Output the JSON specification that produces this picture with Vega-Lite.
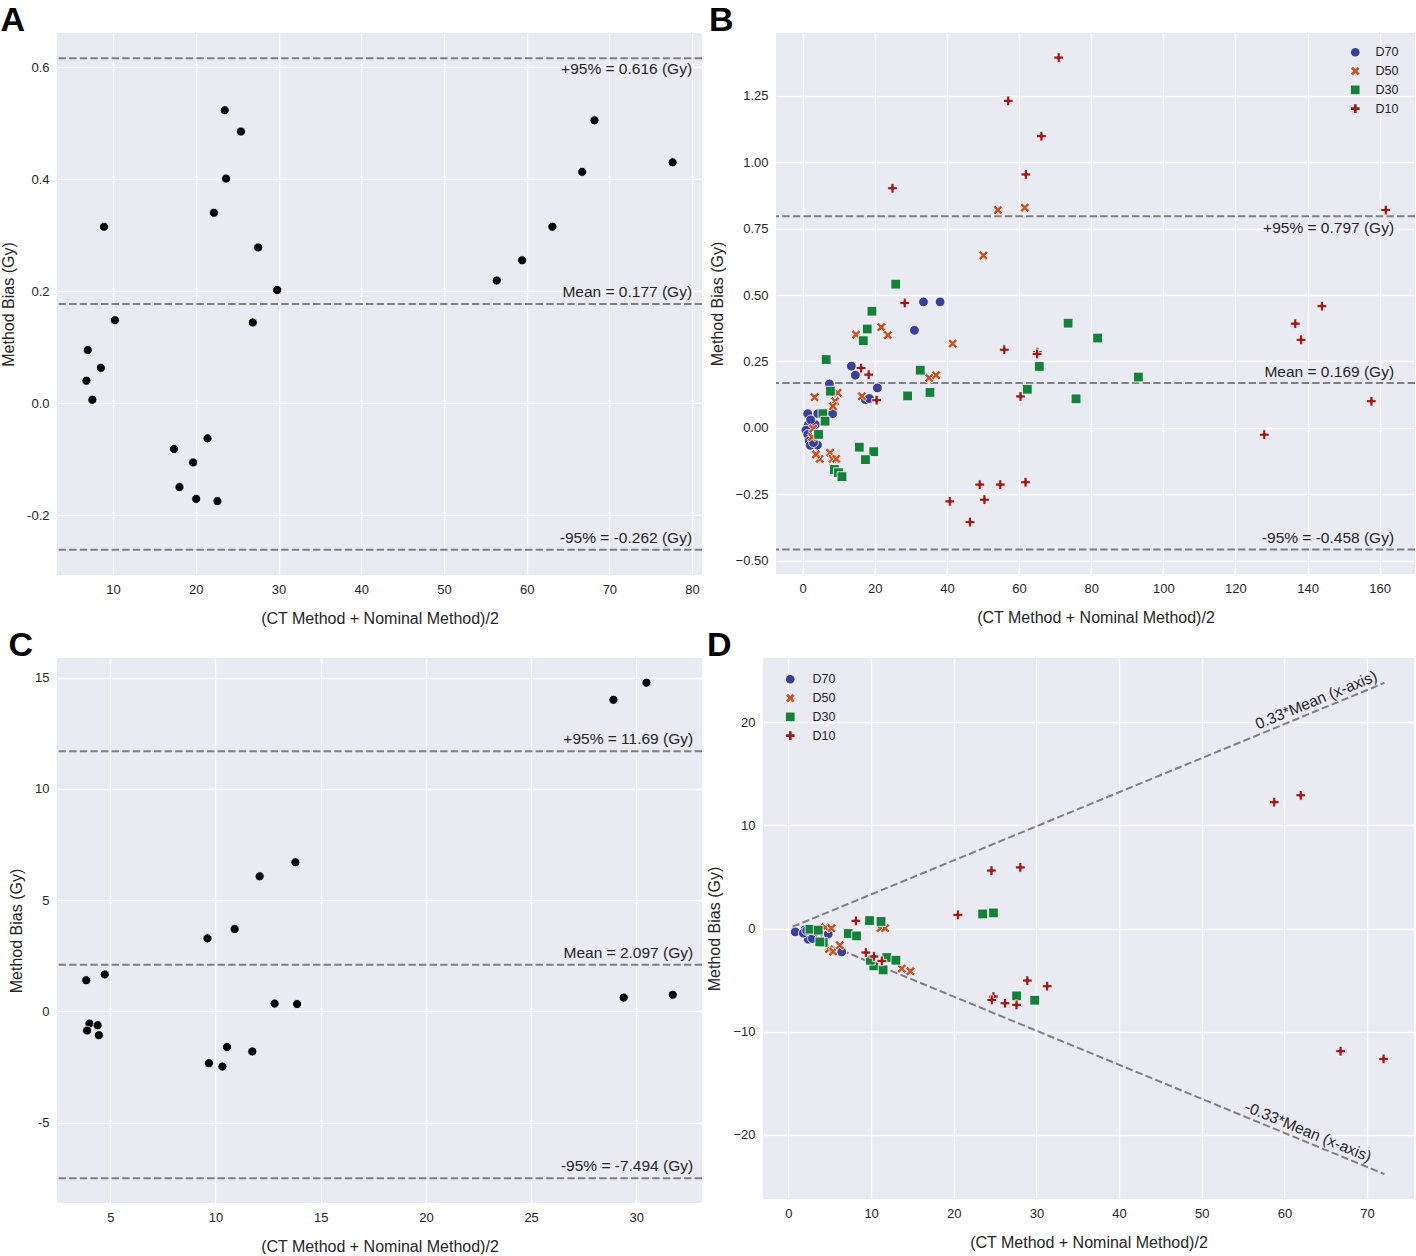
{
"$schema": "https://vega.github.io/schema/vega-lite/v6.json",
"padding": {"left": 0, "top": 4, "right": 0, "bottom": 0},
"background": "white",
"config": {
  "view": {"fill": "#eaeaf2", "stroke": null},
  "axis": {"domain": false, "ticks": false, "gridColor": "white", "gridWidth": 1.3, "labelFont": "Liberation Sans", "labelFontSize": 13, "labelColor": "#262626", "labelPadding": 8, "titleFont": "Liberation Sans", "titleFontSize": 16, "titleFontWeight": "normal", "titleColor": "#262626", "titlePadding": 10},
  "axisX": {"titlePadding": 14},
  "title": {"font": "Liberation Sans", "fontSize": 34, "fontWeight": "bold", "anchor": "start", "frame": "bounds", "color": "black", "offset": -5, "baseline": "top"},
  "text": {"font": "Liberation Sans", "fontSize": 15.5, "color": "#262626"},
  "legend": {"labelFont": "Liberation Sans", "labelFontSize": 12.5, "labelColor": "#262626"}
},
"spacing": 3,
"resolve": {"scale": {"color": "independent", "shape": "independent"}, "legend": {"color": "independent", "shape": "independent"}},
"vconcat": [
{
 "spacing": 6,
 "resolve": {"scale": {"color": "independent", "shape": "independent"}, "legend": {"color": "independent", "shape": "independent"}},
 "hconcat": [
 {
  "title": {"text": "A"},
  "width": 645, "height": 542,
  "layer": [
   {
    "data": {"values": [{"y": 0.616}, {"y": 0.177}, {"y": -0.262}]},
    "mark": {"type": "rule", "color": "#808080", "strokeWidth": 2, "strokeDash": [7.4, 3.2]},
    "encoding": {"y": {"field": "y", "type": "quantitative", "scale": {"domain": [-0.307, 0.661], "nice": false, "zero": false}, "axis": {"values": [-0.2, 0, 0.2, 0.4, 0.6], "format": ".1f", "labelExpr": "replace(datum.label, '−', '-')", "title": "Method Bias (Gy)"}}}
   },
   {
    "data": {"values": [
     {"x": 6.94, "y": 0.0947}, {"x": 6.78, "y": 0.040}, {"x": 7.49, "y": 0.006}, {"x": 8.52, "y": 0.063}, {"x": 8.91, "y": 0.315},
     {"x": 10.22, "y": 0.148}, {"x": 17.38, "y": -0.082}, {"x": 18.03, "y": -0.150}, {"x": 19.67, "y": -0.106}, {"x": 20.05, "y": -0.171},
     {"x": 21.42, "y": -0.063}, {"x": 22.62, "y": -0.175}, {"x": 22.19, "y": 0.340}, {"x": 23.50, "y": 0.523}, {"x": 23.66, "y": 0.401},
     {"x": 25.46, "y": 0.485}, {"x": 26.89, "y": 0.144}, {"x": 27.54, "y": 0.278}, {"x": 29.84, "y": 0.202}, {"x": 56.39, "y": 0.219},
     {"x": 59.45, "y": 0.255}, {"x": 63.11, "y": 0.315}, {"x": 66.72, "y": 0.413}, {"x": 68.2, "y": 0.505}, {"x": 77.65, "y": 0.430}
    ]},
    "mark": {"type": "point", "shape": "circle", "filled": true, "color": "black", "opacity": 1, "stroke": "white", "strokeWidth": 0.8, "size": 82},
    "encoding": {
     "x": {"field": "x", "type": "quantitative", "scale": {"domain": [3.22, 81.2], "nice": false, "zero": false}, "axis": {"values": [10, 20, 30, 40, 50, 60, 70, 80], "title": "(CT Method + Nominal Method)/2"}},
     "y": {"field": "y", "type": "quantitative", "axis": {"values": [-0.2, 0, 0.2, 0.4, 0.6], "format": ".1f", "labelExpr": "replace(datum.label, '−', '-')", "title": "Method Bias (Gy)"}}
    }
   },
   {
    "data": {"values": [{"y": 0.616, "label": "+95% = 0.616 (Gy)"}]},
    "mark": {"type": "text", "align": "right", "baseline": "middle", "dy": 11},
    "encoding": {"x": {"datum": 80.0}, "y": {"field": "y", "type": "quantitative"}, "text": {"field": "label"}}
   },
   {
    "data": {"values": [{"y": 0.177, "label": "Mean = 0.177 (Gy)"}, {"y": -0.262, "label": "-95% = -0.262 (Gy)"}]},
    "mark": {"type": "text", "align": "right", "baseline": "middle", "dy": -12},
    "encoding": {"x": {"datum": 80.0}, "y": {"field": "y", "type": "quantitative"}, "text": {"field": "label"}}
   }
  ]
 },
 {
  "title": {"text": "B"},
  "width": 639, "height": 541,
  "layer": [
   {
    "data": {"values": [{"y": 0.797}, {"y": 0.169}, {"y": -0.458}]},
    "mark": {"type": "rule", "color": "#808080", "strokeWidth": 2, "strokeDash": [7.4, 3.2]},
    "encoding": {"y": {"field": "y", "type": "quantitative", "scale": {"domain": [-0.5506, 1.4866], "nice": false, "zero": false}, "axis": {"values": [-0.5, -0.25, 0, 0.25, 0.5, 0.75, 1, 1.25], "format": ".2f", "title": "Method Bias (Gy)"}}}
   },
   {
    "data": {"values": [
     {"group": "D70", "x": 33.5, "y": 0.474}, {"group": "D70", "x": 38.1, "y": 0.474}, {"group": "D70", "x": 31.0, "y": 0.367},
     {"group": "D70", "x": 13.5, "y": 0.232}, {"group": "D70", "x": 14.6, "y": 0.198}, {"group": "D70", "x": 7.4, "y": 0.165},
     {"group": "D70", "x": 20.7, "y": 0.150}, {"group": "D70", "x": 17.4, "y": 0.106}, {"group": "D70", "x": 18.5, "y": 0.110},
     {"group": "D70", "x": 1.4, "y": 0.053}, {"group": "D70", "x": 4.2, "y": 0.053}, {"group": "D70", "x": 8.3, "y": 0.053},
     {"group": "D70", "x": 1.6, "y": 0.012}, {"group": "D70", "x": 0.9, "y": -0.009}, {"group": "D70", "x": 1.4, "y": -0.025},
     {"group": "D70", "x": 1.8, "y": -0.05}, {"group": "D70", "x": 2.1, "y": -0.066}, {"group": "D70", "x": 4.1, "y": -0.065},
     {"group": "D70", "x": 3.0, "y": -0.056}, {"group": "D70", "x": 3.5, "y": 0.012}, {"group": "D70", "x": 2.2, "y": 0.03},
     {"group": "D50", "x": 54.1, "y": 0.820}, {"group": "D50", "x": 61.6, "y": 0.829}, {"group": "D50", "x": 50.1, "y": 0.649},
     {"group": "D50", "x": 14.8, "y": 0.351}, {"group": "D50", "x": 21.8, "y": 0.379}, {"group": "D50", "x": 23.6, "y": 0.349},
     {"group": "D50", "x": 41.6, "y": 0.317}, {"group": "D50", "x": 35.1, "y": 0.188}, {"group": "D50", "x": 37.0, "y": 0.198},
     {"group": "D50", "x": 3.3, "y": 0.115}, {"group": "D50", "x": 9.7, "y": 0.132}, {"group": "D50", "x": 9.0, "y": 0.100},
     {"group": "D50", "x": 8.4, "y": 0.081}, {"group": "D50", "x": 16.4, "y": 0.119}, {"group": "D50", "x": 2.9, "y": -0.003},
     {"group": "D50", "x": 7.6, "y": -0.094}, {"group": "D50", "x": 4.7, "y": -0.117}, {"group": "D50", "x": 3.7, "y": -0.100},
     {"group": "D50", "x": 8.3, "y": -0.117}, {"group": "D50", "x": 9.3, "y": -0.117}, {"group": "D50", "x": 2.6, "y": -0.035},
     {"group": "D30", "x": 25.8, "y": 0.541}, {"group": "D30", "x": 19.2, "y": 0.439}, {"group": "D30", "x": 17.9, "y": 0.372},
     {"group": "D30", "x": 16.8, "y": 0.328}, {"group": "D30", "x": 6.5, "y": 0.257}, {"group": "D30", "x": 32.6, "y": 0.217},
     {"group": "D30", "x": 29.1, "y": 0.120}, {"group": "D30", "x": 35.3, "y": 0.133}, {"group": "D30", "x": 7.7, "y": 0.138},
     {"group": "D30", "x": 5.6, "y": 0.053}, {"group": "D30", "x": 6.2, "y": 0.025}, {"group": "D30", "x": 4.4, "y": -0.025},
     {"group": "D30", "x": 15.7, "y": -0.073}, {"group": "D30", "x": 19.7, "y": -0.090}, {"group": "D30", "x": 17.4, "y": -0.120},
     {"group": "D30", "x": 8.8, "y": -0.157}, {"group": "D30", "x": 9.9, "y": -0.169}, {"group": "D30", "x": 10.9, "y": -0.184},
     {"group": "D30", "x": 73.6, "y": 0.394}, {"group": "D30", "x": 81.8, "y": 0.338}, {"group": "D30", "x": 65.6, "y": 0.231},
     {"group": "D30", "x": 93.1, "y": 0.191}, {"group": "D30", "x": 62.3, "y": 0.145}, {"group": "D30", "x": 75.8, "y": 0.109},
     {"group": "D10", "x": 71.0, "y": 1.394}, {"group": "D10", "x": 57.0, "y": 1.231}, {"group": "D10", "x": 66.2, "y": 1.098},
     {"group": "D10", "x": 61.9, "y": 0.954}, {"group": "D10", "x": 24.9, "y": 0.902}, {"group": "D10", "x": 161.7, "y": 0.820},
     {"group": "D10", "x": 28.3, "y": 0.470}, {"group": "D10", "x": 144.0, "y": 0.458}, {"group": "D10", "x": 136.6, "y": 0.392},
     {"group": "D10", "x": 138.2, "y": 0.331}, {"group": "D10", "x": 55.9, "y": 0.294}, {"group": "D10", "x": 65.1, "y": 0.285},
     {"group": "D10", "x": 65.0, "y": 0.278}, {"group": "D10", "x": 16.2, "y": 0.225}, {"group": "D10", "x": 18.3, "y": 0.200},
     {"group": "D10", "x": 60.4, "y": 0.118}, {"group": "D10", "x": 157.7, "y": 0.100}, {"group": "D10", "x": 20.5, "y": 0.104},
     {"group": "D10", "x": 128.0, "y": -0.026}, {"group": "D10", "x": 61.8, "y": -0.205}, {"group": "D10", "x": 49.1, "y": -0.214},
     {"group": "D10", "x": 54.8, "y": -0.214}, {"group": "D10", "x": 50.4, "y": -0.271}, {"group": "D10", "x": 40.8, "y": -0.277},
     {"group": "D10", "x": 46.4, "y": -0.355}
    ]},
    "mark": {"type": "point", "filled": true, "opacity": 1, "stroke": "white", "strokeWidth": 0.8, "size": 95},
    "encoding": {
     "x": {"field": "x", "type": "quantitative", "scale": {"domain": [-7.4, 169.8], "nice": false, "zero": false}, "axis": {"values": [0, 20, 40, 60, 80, 100, 120, 140, 160], "title": "(CT Method + Nominal Method)/2"}},
     "y": {"field": "y", "type": "quantitative", "axis": {"values": [-0.5, -0.25, 0, 0.25, 0.5, 0.75, 1, 1.25], "format": ".2f", "title": "Method Bias (Gy)"}},
     "color": {"field": "group", "type": "nominal", "scale": {"domain": ["D70", "D50", "D30", "D10"], "range": ["#3a3f98", "#c8522a", "#14803c", "#a01818"]}, "legend": {"title": null, "orient": "none", "legendX": 573, "legendY": 13, "padding": 0, "rowPadding": 5.8, "symbolSize": 75, "symbolStrokeWidth": 0, "labelOffset": 14}},
     "shape": {"field": "group", "type": "nominal", "scale": {"domain": ["D70", "D50", "D30", "D10"], "range": ["circle", "M-1,-0.55L-0.55,-1L0,-0.45L0.55,-1L1,-0.55L0.45,0L1,0.55L0.55,1L0,0.45L-0.55,1L-1,0.55L-0.45,0Z", "square", "M-0.32,-1L0.32,-1L0.32,-0.32L1,-0.32L1,0.32L0.32,0.32L0.32,1L-0.32,1L-0.32,0.32L-1,0.32L-1,-0.32L-0.32,-0.32Z"]}, "legend": {"title": null, "orient": "none", "legendX": 573, "legendY": 13, "padding": 0, "rowPadding": 5.8, "symbolSize": 75, "symbolStrokeWidth": 0, "labelOffset": 14}}
    }
   },
   {
    "data": {"values": [{"y": 0.797, "label": "+95% = 0.797 (Gy)"}]},
    "mark": {"type": "text", "align": "right", "baseline": "middle", "dy": 12},
    "encoding": {"x": {"datum": 164.0}, "y": {"field": "y", "type": "quantitative"}, "text": {"field": "label"}}
   },
   {
    "data": {"values": [{"y": 0.169, "label": "Mean = 0.169 (Gy)"}, {"y": -0.458, "label": "-95% = -0.458 (Gy)"}]},
    "mark": {"type": "text", "align": "right", "baseline": "middle", "dy": -11},
    "encoding": {"x": {"datum": 164.0}, "y": {"field": "y", "type": "quantitative"}, "text": {"field": "label"}}
   }
  ]
 }
 ]
},
{
 "spacing": 3,
 "resolve": {"scale": {"color": "independent", "shape": "independent"}, "legend": {"color": "independent", "shape": "independent"}},
 "hconcat": [
 {
  "title": {"text": "C"},
  "width": 645, "height": 545,
  "layer": [
   {
    "data": {"values": [{"y": 11.69}, {"y": 2.097}, {"y": -7.494}]},
    "mark": {"type": "rule", "color": "#808080", "strokeWidth": 2, "strokeDash": [7.4, 3.2]},
    "encoding": {"y": {"field": "y", "type": "quantitative", "scale": {"domain": [-8.61, 15.88], "nice": false, "zero": false}, "axis": {"values": [-5, 0, 5, 10, 15], "labelExpr": "replace(datum.label, '−', '-')", "title": "Method Bias (Gy)"}}}
   },
   {
    "data": {"values": [
     {"x": 28.91, "y": 14.0}, {"x": 30.48, "y": 14.77}, {"x": 3.86, "y": 1.40}, {"x": 4.74, "y": 1.66}, {"x": 4.01, "y": -0.55},
     {"x": 3.90, "y": -0.86}, {"x": 4.40, "y": -0.62}, {"x": 4.46, "y": -1.07}, {"x": 9.62, "y": 3.28}, {"x": 10.91, "y": 3.70},
     {"x": 12.10, "y": 6.07}, {"x": 13.80, "y": 6.70}, {"x": 12.81, "y": 0.35}, {"x": 13.88, "y": 0.33}, {"x": 9.69, "y": -2.33},
     {"x": 10.33, "y": -2.48}, {"x": 10.55, "y": -1.60}, {"x": 11.75, "y": -1.80}, {"x": 29.40, "y": 0.62}, {"x": 31.73, "y": 0.75}
    ]},
    "mark": {"type": "point", "shape": "circle", "filled": true, "color": "black", "opacity": 1, "stroke": "white", "strokeWidth": 0.8, "size": 82},
    "encoding": {
     "x": {"field": "x", "type": "quantitative", "scale": {"domain": [2.47, 33.12], "nice": false, "zero": false}, "axis": {"values": [5, 10, 15, 20, 25, 30], "title": "(CT Method + Nominal Method)/2"}},
     "y": {"field": "y", "type": "quantitative", "axis": {"values": [-5, 0, 5, 10, 15], "labelExpr": "replace(datum.label, '−', '-')", "title": "Method Bias (Gy)"}}
    }
   },
   {
    "data": {"values": [{"y": 11.69, "label": "+95% = 11.69 (Gy)"}, {"y": 2.097, "label": "Mean = 2.097 (Gy)"}, {"y": -7.494, "label": "-95% = -7.494 (Gy)"}]},
    "mark": {"type": "text", "align": "right", "baseline": "middle", "dy": -12},
    "encoding": {"x": {"datum": 32.7}, "y": {"field": "y", "type": "quantitative"}, "text": {"field": "label"}}
   }
  ]
 },
 {
  "title": {"text": "D"},
  "width": 651, "height": 541,
  "layer": [
   {
    "data": {"values": [{"x": 0.5, "y": 0.165, "x2": 72.1, "y2": 23.79}, {"x": 0.5, "y": -0.165, "x2": 72.1, "y2": -23.79}]},
    "mark": {"type": "rule", "color": "#808080", "strokeWidth": 2, "strokeDash": [7.4, 3.2]},
    "encoding": {
     "x": {"field": "x", "type": "quantitative", "scale": {"domain": [-3.08, 75.68], "nice": false, "zero": false}, "axis": {"values": [0, 10, 20, 30, 40, 50, 60, 70], "title": "(CT Method + Nominal Method)/2"}},
     "y": {"field": "y", "type": "quantitative", "scale": {"domain": [-26.2, 26.2], "nice": false, "zero": false}, "axis": {"values": [-20, -10, 0, 10, 20], "title": "Method Bias (Gy)"}},
     "x2": {"field": "x2"}, "y2": {"field": "y2"}
    }
   },
   {
    "data": {"values": [
     {"group": "D70", "x": 0.82, "y": -0.33}, {"group": "D70", "x": 2.0, "y": -0.13}, {"group": "D70", "x": 2.4, "y": -1.04},
     {"group": "D70", "x": 2.9, "y": -0.97}, {"group": "D70", "x": 4.8, "y": -0.55}, {"group": "D70", "x": 6.45, "y": -2.27},
     {"group": "D70", "x": 1.8, "y": -0.45}, {"group": "D70", "x": 2.2, "y": -0.2},
     {"group": "D50", "x": 4.43, "y": 0.1}, {"group": "D50", "x": 5.2, "y": 0.03}, {"group": "D50", "x": 3.7, "y": -0.39},
     {"group": "D50", "x": 3.3, "y": -0.2}, {"group": "D50", "x": 11.13, "y": 0.03}, {"group": "D50", "x": 11.7, "y": 0.03},
     {"group": "D50", "x": 4.9, "y": -2.0}, {"group": "D50", "x": 5.4, "y": -2.23}, {"group": "D50", "x": 6.2, "y": -1.62},
     {"group": "D50", "x": 13.7, "y": -3.88}, {"group": "D50", "x": 14.75, "y": -4.14},
     {"group": "D30", "x": 2.6, "y": -0.07}, {"group": "D30", "x": 3.6, "y": -0.16}, {"group": "D30", "x": 4.2, "y": -1.36},
     {"group": "D30", "x": 3.8, "y": -1.3}, {"group": "D30", "x": 7.24, "y": -0.49}, {"group": "D30", "x": 8.24, "y": -0.72},
     {"group": "D30", "x": 9.81, "y": 0.77}, {"group": "D30", "x": 11.2, "y": 0.68}, {"group": "D30", "x": 11.9, "y": -2.81},
     {"group": "D30", "x": 13.0, "y": -3.07}, {"group": "D30", "x": 10.33, "y": -3.62}, {"group": "D30", "x": 11.45, "y": -4.01},
     {"group": "D30", "x": 9.9, "y": -3.07}, {"group": "D30", "x": 23.5, "y": 1.41}, {"group": "D30", "x": 24.8, "y": 1.51},
     {"group": "D30", "x": 27.6, "y": -6.53}, {"group": "D30", "x": 29.8, "y": -6.95},
     {"group": "D10", "x": 8.16, "y": 0.74}, {"group": "D10", "x": 9.36, "y": -2.33}, {"group": "D10", "x": 10.34, "y": -2.71},
     {"group": "D10", "x": 11.3, "y": -3.14}, {"group": "D10", "x": 20.5, "y": 1.32}, {"group": "D10", "x": 24.8, "y": -6.59},
     {"group": "D10", "x": 24.6, "y": -6.92}, {"group": "D10", "x": 26.2, "y": -7.24}, {"group": "D10", "x": 27.6, "y": -7.4},
     {"group": "D10", "x": 28.9, "y": -5.04}, {"group": "D10", "x": 31.3, "y": -5.59}, {"group": "D10", "x": 24.56, "y": 5.61},
     {"group": "D10", "x": 28.05, "y": 5.92}, {"group": "D10", "x": 58.77, "y": 12.24}, {"group": "D10", "x": 61.98, "y": 12.9},
     {"group": "D10", "x": 66.8, "y": -11.88}, {"group": "D10", "x": 72.0, "y": -12.63}
    ]},
    "mark": {"type": "point", "filled": true, "opacity": 1, "stroke": "white", "strokeWidth": 0.8, "size": 95},
    "encoding": {
     "x": {"field": "x", "type": "quantitative", "axis": {"values": [0, 10, 20, 30, 40, 50, 60, 70], "title": "(CT Method + Nominal Method)/2"}},
     "y": {"field": "y", "type": "quantitative", "axis": {"values": [-20, -10, 0, 10, 20], "title": "Method Bias (Gy)"}},
     "color": {"field": "group", "type": "nominal", "scale": {"domain": ["D70", "D50", "D30", "D10"], "range": ["#3a3f98", "#c8522a", "#14803c", "#a01818"]}, "legend": {"title": null, "orient": "none", "legendX": 21, "legendY": 15, "padding": 0, "rowPadding": 5.8, "symbolSize": 75, "symbolStrokeWidth": 0, "labelOffset": 16}},
     "shape": {"field": "group", "type": "nominal", "scale": {"domain": ["D70", "D50", "D30", "D10"], "range": ["circle", "M-1,-0.55L-0.55,-1L0,-0.45L0.55,-1L1,-0.55L0.45,0L1,0.55L0.55,1L0,0.45L-0.55,1L-1,0.55L-0.45,0Z", "square", "M-0.32,-1L0.32,-1L0.32,-0.32L1,-0.32L1,0.32L0.32,0.32L0.32,1L-0.32,1L-0.32,0.32L-1,0.32L-1,-0.32L-0.32,-0.32Z"]}, "legend": {"title": null, "orient": "none", "legendX": 21, "legendY": 15, "padding": 0, "rowPadding": 5.8, "symbolSize": 75, "symbolStrokeWidth": 0, "labelOffset": 16}}
    }
   },
   {
    "data": {"values": [{"x": 64.3, "y": 21.22, "label": "0.33*Mean (x-axis)"}]},
    "mark": {"type": "text", "align": "center", "baseline": "bottom", "angle": -22.4, "dy": -2},
    "encoding": {"x": {"field": "x", "type": "quantitative"}, "y": {"field": "y", "type": "quantitative"}, "text": {"field": "label"}}
   },
   {
    "data": {"values": [{"x": 62.4, "y": -20.59, "label": "-0.33*Mean (x-axis)"}]},
    "mark": {"type": "text", "align": "center", "baseline": "bottom", "angle": 22.4, "dy": -2},
    "encoding": {"x": {"field": "x", "type": "quantitative"}, "y": {"field": "y", "type": "quantitative"}, "text": {"field": "label"}}
   }
  ]
 }
 ]
}
]
}
